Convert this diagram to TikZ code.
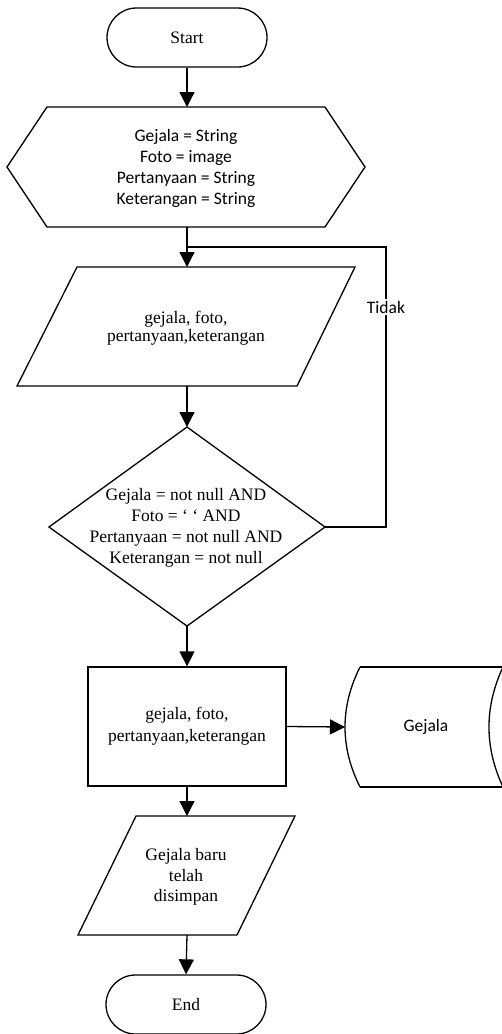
\documentclass[tikz,border=0pt]{standalone}
\usepackage{fontspec}
\setmainfont{Liberation Serif}
\newfontfamily\sansf{Carlito}
\usetikzlibrary{arrows.meta}
\begin{document}
\begin{tikzpicture}[x=1pt,y=-1pt,line width=1.3pt,line join=miter,
  arr/.style={-{Triangle[length=15pt,width=15pt]}},
  term/.style={draw,rounded corners=29.5pt,minimum width=160pt,minimum height=59pt,inner sep=0pt,font=\fontsize{17.5}{21}\selectfont},
  txt/.style={align=center,inner sep=0pt,font=\fontsize{17.5}{21}\selectfont},
  stxt/.style={align=center,inner sep=0pt,font=\sansf\fontsize{17.5}{21}\selectfont}]
\useasboundingbox (0,0) rectangle (502,1034);
\clip (0,0) rectangle (502,1034);

% Start
\node[term] (start) at (187,37.5) {Start};

% declaration hexagon
\draw (7,167) -- (47,107) -- (325,107) -- (365,167) -- (325,227) -- (47,227) -- cycle;
\node[stxt] (decl) at (186,168) {Gejala = String\\Foto = image\\Pertanyaan = String\\Keterangan = String};
\coordinate (declT) at (187,107);
\coordinate (declB) at (187,227);
\coordinate (join) at (187,247);

% input parallelogram
\draw (77,267) -- (355,267) -- (297,386) -- (17,386) -- cycle;
\node[txt,font=\fontsize{17.5}{18.5}\selectfont] (in1) at (186,328) {gejala, foto,\\pertanyaan,keterangan};
\coordinate (in1T) at (187,267);
\coordinate (in1B) at (187,386);

% decision diamond
\draw (187,427) -- (325,527) -- (187,626) -- (49,527) -- cycle;
\node[txt] (cond) at (186,527.5) {Gejala = not null AND\\Foto = ` ` AND\\Pertanyaan = not null AND\\Keterangan = not null};
\coordinate (dT) at (187,427);
\coordinate (dR) at (325,527);
\coordinate (dB) at (187,626);
\coordinate (loopA) at (386,527);
\coordinate (loopB) at (386,247);

% process rectangle
\node[draw,txt,font=\fontsize{17.5}{22}\selectfont,minimum width=198pt,minimum height=119pt] (save) at (187,726.5) {gejala, foto,\\pertanyaan,keterangan};

% stored data
\draw (360,667) -- (503,667);
\draw (360,787) -- (503,787);
\draw (360,667) .. controls (340,707) and (340,747) .. (360,787);
\draw (503,667) .. controls (484.3,707) and (484.3,747) .. (503,787);
\node[stxt] (store) at (426,727) {Gejala};
\coordinate (storeL) at (345,727);

% output parallelogram
\draw (136,816) -- (295,816) -- (237,935) -- (78,935) -- cycle;
\node[txt,font=\fontsize{17.5}{20.5}\selectfont] (done) at (186,877) {Gejala baru\\telah\\disimpan};
\coordinate (doneT) at (187,816);
\coordinate (doneB) at (187,935);

% End
\node[term] (end) at (186,1004.5) {End};

% connectors
\draw[arr] (start.south) -- (declT);
\draw[arr] (declB) -- (in1T);
\draw[arr] (in1B) -- (dT);
\draw (dR) -- (loopA) -- (loopB) -- (join);
\node[stxt,fill=white,inner sep=2pt] (tidak) at (386,307) {Tidak};
\draw[arr] (dB) -- (save.north);
\draw[arr] (save.east) -- (storeL);
\draw[arr] (save.south) -- (doneT);
\draw[arr] (doneB) -- (end.north);
\end{tikzpicture}
\end{document}
